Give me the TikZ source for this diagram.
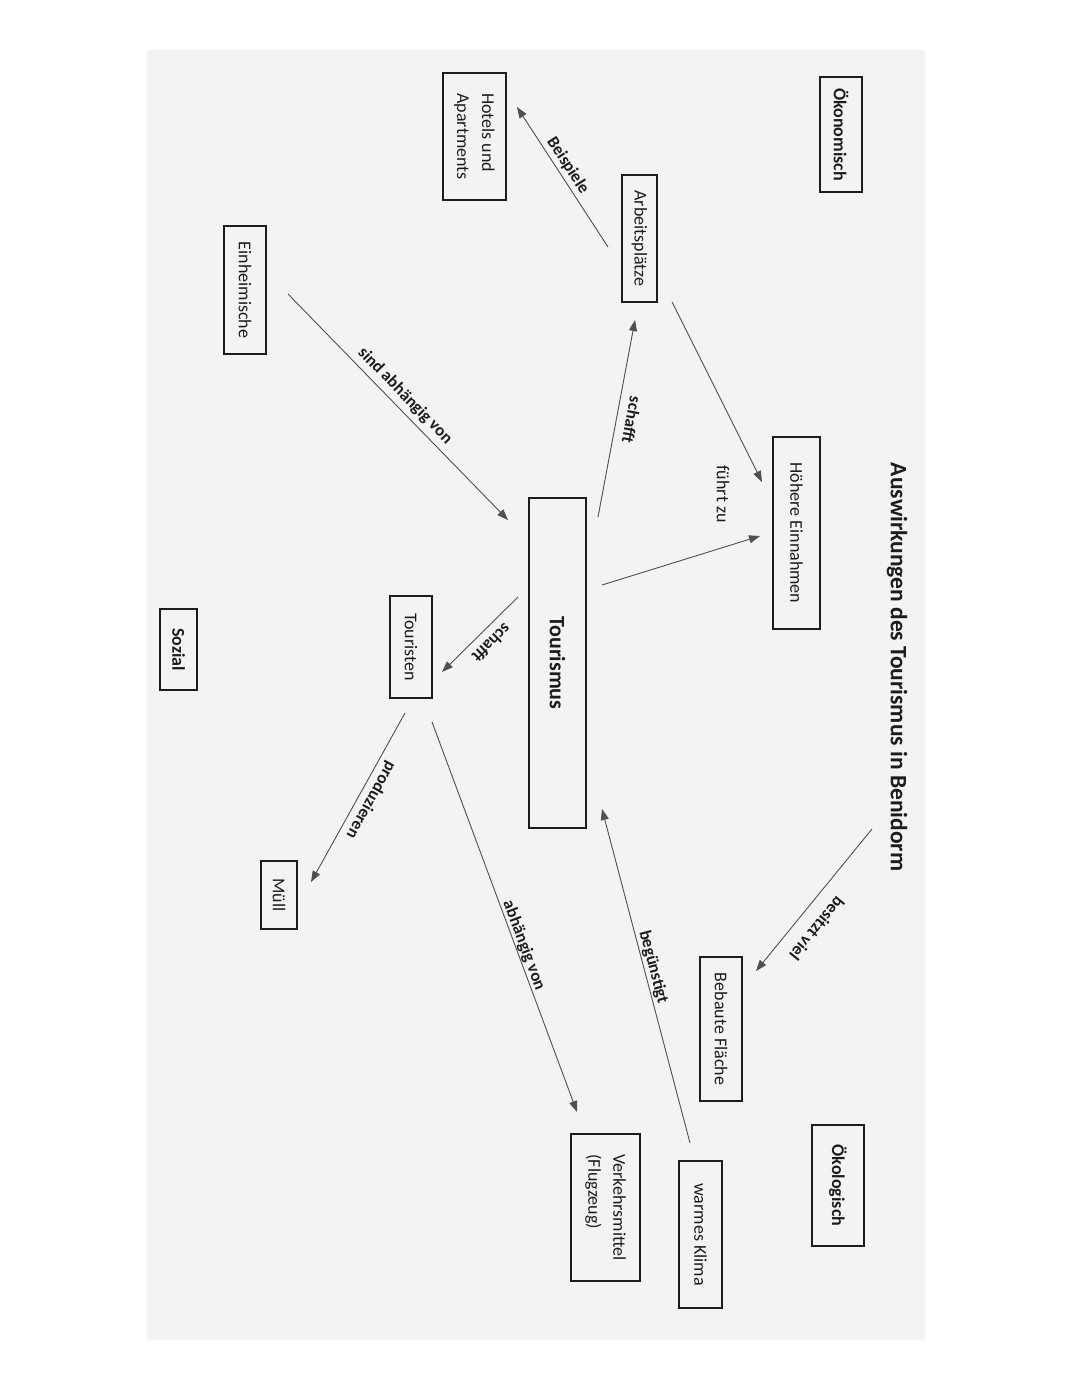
\documentclass[tikz,border=0pt]{standalone}
\usepackage{fontspec}
\setmainfont{Carlito}
\usetikzlibrary{arrows.meta,calc}
\definecolor{ink}{HTML}{1C1C1C}
\definecolor{arrowgray}{HTML}{505050}
\definecolor{paper}{HTML}{F3F3F3}
\begin{document}
\begin{tikzpicture}[x=1pt,y=1pt,
  box/.style={draw=ink, line width=1.1pt, rotate=-90, inner sep=0pt, text=ink,
    font=\fontsize{18}{25}\selectfont, align=left},
  hdr/.style={box, font=\fontsize{18}{25}\selectfont\bfseries},
  arr/.style={draw=arrowgray, line width=0.9pt, -{Triangle[length=11pt,width=8pt]}},
  lbltext/.style={inner sep=0pt, text=ink, font=\fontsize{17}{20}\selectfont\bfseries},
  lbl/.style={sloped, lbltext}]

\useasboundingbox (0,0) rectangle (1080,-1397);
\fill[paper] (147,-50) rectangle (925,-1340);

% title
\node[rotate=-90, text=ink, font=\fontsize{23.5}{28}\selectfont\bfseries] (title) at (897,-667)
  {Auswirkungen des Tourismus in Benidorm};

% category headers
\node[hdr, minimum width=115pt, minimum height=42pt] (oekon) at (841,-134.5) {Ökonomisch};
\node[hdr, minimum width=81pt, minimum height=37pt] (soz) at (178.5,-649.5) {Sozial};
\node[hdr, minimum width=121pt, minimum height=52pt] (oekol) at (838,-1185.5) {Ökologisch};

% concept boxes
\node[box, minimum width=127pt, minimum height=63pt] (hot) at (474.5,-136.5) {Hotels und\\Apartments};
\node[box, minimum width=127pt, minimum height=35pt] (arb) at (639.5,-238.5) {Arbeitsplätze};
\node[box, minimum width=128pt, minimum height=42pt] (einh) at (245,-290) {Einheimische};
\node[box, minimum width=192pt, minimum height=47pt] (hoeh) at (796.5,-533) {Höhere Einnahmen};
\node[box, minimum width=330pt, minimum height=57pt, font=\fontsize{22}{26}\selectfont\bfseries] (tour) at (557.5,-663) {Tourismus};
\node[box, minimum width=102pt, minimum height=42pt] (tou) at (411,-647) {Touristen};
\node[box, minimum width=68pt, minimum height=36pt] (muell) at (279,-895) {Müll};
\node[box, minimum width=144pt, minimum height=42pt] (beb) at (721,-1029) {Bebaute Fläche};
\node[box, minimum width=147pt, minimum height=43pt] (klima) at (700.5,-1234.5) {warmes Klima};
\node[box, minimum width=147pt, minimum height=69pt] (verk) at (605.5,-1207.5) {Verkehrsmittel\\(Flugzeug)};

% connectors
\draw[arr] ($(arb)+(-31.5,-8.5)$) -- node[lbl, pos=0.54, above=3pt] {Beispiele} ($(hot)+(42.5,29.5)$);
\draw[arr] ($(tour)+(40.5,146)$) -- node[lbltext, pos=0.50, xshift=9pt, rotate=-100.6, anchor=south] {schafft} ($(arb)+(-4.5,-81.5)$);
\draw[arr] ($(arb)+(32.5,-63.5)$) -- ($(hoeh)+(-34.5,51)$);
\draw[arr] ($(tour)+(44.5,78)$) -- ($(hoeh)+(-36.5,-3)$);
\node[rotate=-90, text=ink, font=\fontsize{18}{20}\selectfont] (fz) at (723,-494) {führt zu};
\draw[arr] ($(einh)+(43,-4)$) -- node[lbl, pos=0.49, above=5pt] {sind abhängig von} ($(tour)+(-49.5,143)$);
\draw[arr] ($(tour)+(-39.5,66)$) -- node[lbl, allow upside down, pos=0.48, above=8pt] {schafft} ($(tou)+(31,-25)$);
\draw[arr] ($(tou)+(-6,-66)$) -- node[lbl, allow upside down, pos=0.48, above=5pt] {produzieren} ($(muell)+(32,13)$);
\draw[arr] ($(tou)+(21,-75)$) -- node[lbl, pos=0.58, above=0.5pt] {abhängig von} ($(verk)+(-28.5,95.5)$);
\draw[arr] ($(klima)+(-10.5,91.5)$) -- node[lbl, pos=0.52, above=1.5pt] {begünstigt} ($(tour)+(44.5,-146)$);
\draw[arr] ($(title)+(-25,-162)$) -- node[lbl, allow upside down, pos=0.61, above=14pt] {besitzt viel} ($(beb)+(35,58)$);
\end{tikzpicture}
\end{document}
